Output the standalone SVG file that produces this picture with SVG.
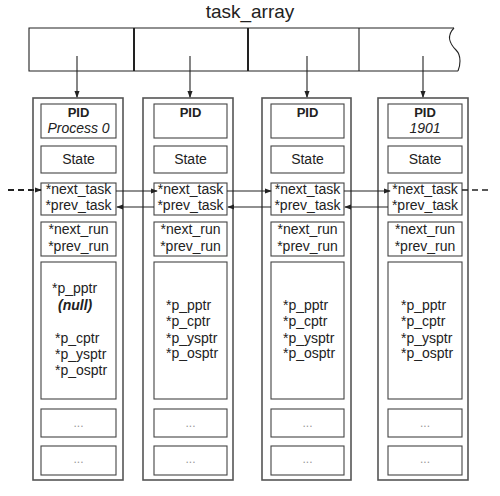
<svg xmlns="http://www.w3.org/2000/svg" width="500" height="496" viewBox="0 0 500 496">
<style>
text{font-family:"Liberation Sans",Arial,sans-serif;fill:#222}
.t{font-size:14px}
.c{text-anchor:middle}
.pid{font-size:13px;font-weight:bold;text-anchor:middle}
.it{font-size:14px;font-style:italic;text-anchor:middle}
.dots{font-size:12px;fill:#999;text-anchor:middle}
.outer{fill:#fff;stroke:#555;stroke-width:1.6}
.box{fill:#fff;stroke:#444;stroke-width:1.1}
.ln{stroke:#222;stroke-width:1.1;fill:none}
</style>
<defs>
<marker id="ah" viewBox="0 0 8 8" refX="7" refY="4" markerWidth="7" markerHeight="7" orient="auto" markerUnits="userSpaceOnUse">
<path d="M0,1 L8,4 L0,7 z" fill="#222"/>
</marker>
</defs>
<rect width="500" height="496" fill="#fff"/>
<g id="task_array">
<text x="250" y="18" font-size="19" text-anchor="middle">task_array</text>
<path d="M454,28 L29,28 L29,71 L458,71" class="ln"/>
<path d="M454,28 C446,36 450,44 456,50 C462,56 460,66 458,71" class="ln"/>
<line x1="134" y1="28" x2="134" y2="71" stroke="#222" stroke-width="2"/>
<line x1="248" y1="28" x2="248" y2="71" stroke="#222" stroke-width="2"/>
<line x1="359" y1="28" x2="359" y2="71" stroke="#222" stroke-width="1.1"/>
</g>
<g id="proc0">
<rect x="33" y="98" width="90" height="382" class="outer"/>
<rect x="41" y="104" width="75" height="34" class="box"/>
<text x="78.5" y="117" class="pid">PID</text>
<text x="78.5" y="133" class="it">Process 0</text>
<rect x="41" y="146" width="75" height="27" class="box"/>
<text x="78.5" y="164" class="t c">State</text>
<rect x="41" y="183" width="75" height="32" class="box"/>
<text x="78.5" y="194" class="t c">*next_task</text>
<text x="78.5" y="210" class="t c">*prev_task</text>
<rect x="41" y="222" width="75" height="34" class="box"/>
<text x="78.5" y="234" class="t c">*next_run</text>
<text x="78.5" y="251" class="t c">*prev_run</text>
<rect x="41" y="262" width="75" height="137" class="box"/>
<text x="52" y="293" class="t">*p_pptr</text>
<text x="58" y="310" class="t" font-weight="bold" font-style="italic">(null)</text>
<text x="55" y="343" class="t">*p_cptr</text>
<text x="55" y="359" class="t">*p_ysptr</text>
<text x="55" y="375" class="t">*p_osptr</text>
<rect x="41" y="409" width="75" height="28" class="box"/>
<text x="78.5" y="427" class="dots">...</text>
<rect x="41" y="446" width="75" height="29" class="box"/>
<text x="78.5" y="463" class="dots">...</text>
</g>
<g id="proc1">
<rect x="143" y="98" width="90" height="382" class="outer"/>
<rect x="154" y="104" width="73" height="34" class="box"/>
<text x="190.5" y="117" class="pid">PID</text>
<rect x="154" y="146" width="73" height="27" class="box"/>
<text x="190.5" y="164" class="t c">State</text>
<rect x="154" y="183" width="73" height="32" class="box"/>
<text x="190.5" y="194" class="t c">*next_task</text>
<text x="190.5" y="210" class="t c">*prev_task</text>
<rect x="154" y="222" width="73" height="34" class="box"/>
<text x="190.5" y="234" class="t c">*next_run</text>
<text x="190.5" y="251" class="t c">*prev_run</text>
<rect x="154" y="262" width="73" height="137" class="box"/>
<text x="166" y="310" class="t">*p_pptr</text>
<text x="166" y="326" class="t">*p_cptr</text>
<text x="166" y="343" class="t">*p_ysptr</text>
<text x="166" y="358" class="t">*p_osptr</text>
<rect x="154" y="409" width="73" height="28" class="box"/>
<text x="190.5" y="427" class="dots">...</text>
<rect x="154" y="446" width="73" height="29" class="box"/>
<text x="190.5" y="463" class="dots">...</text>
</g>
<g id="proc2">
<rect x="262" y="98" width="89" height="382" class="outer"/>
<rect x="271" y="104" width="73" height="34" class="box"/>
<text x="307.5" y="117" class="pid">PID</text>
<rect x="271" y="146" width="73" height="27" class="box"/>
<text x="307.5" y="164" class="t c">State</text>
<rect x="271" y="183" width="73" height="32" class="box"/>
<text x="307.5" y="194" class="t c">*next_task</text>
<text x="307.5" y="210" class="t c">*prev_task</text>
<rect x="271" y="222" width="73" height="34" class="box"/>
<text x="307.5" y="234" class="t c">*next_run</text>
<text x="307.5" y="251" class="t c">*prev_run</text>
<rect x="271" y="262" width="73" height="137" class="box"/>
<text x="283" y="310" class="t">*p_pptr</text>
<text x="283" y="326" class="t">*p_cptr</text>
<text x="283" y="343" class="t">*p_ysptr</text>
<text x="283" y="358" class="t">*p_osptr</text>
<rect x="271" y="409" width="73" height="28" class="box"/>
<text x="307.5" y="427" class="dots">...</text>
<rect x="271" y="446" width="73" height="29" class="box"/>
<text x="307.5" y="463" class="dots">...</text>
</g>
<g id="proc1901">
<rect x="378" y="98" width="90" height="382" class="outer"/>
<rect x="388" y="104" width="74" height="34" class="box"/>
<text x="425" y="117" class="pid">PID</text>
<text x="425" y="133" class="it">1901</text>
<rect x="388" y="146" width="74" height="27" class="box"/>
<text x="425" y="164" class="t c">State</text>
<rect x="388" y="183" width="74" height="32" class="box"/>
<text x="425" y="194" class="t c">*next_task</text>
<text x="425" y="210" class="t c">*prev_task</text>
<rect x="388" y="222" width="74" height="34" class="box"/>
<text x="425" y="234" class="t c">*next_run</text>
<text x="425" y="251" class="t c">*prev_run</text>
<rect x="388" y="262" width="74" height="137" class="box"/>
<text x="401" y="310" class="t">*p_pptr</text>
<text x="401" y="326" class="t">*p_cptr</text>
<text x="401" y="343" class="t">*p_ysptr</text>
<text x="401" y="358" class="t">*p_osptr</text>
<rect x="388" y="409" width="74" height="28" class="box"/>
<text x="425" y="427" class="dots">...</text>
<rect x="388" y="446" width="74" height="29" class="box"/>
<text x="425" y="463" class="dots">...</text>
</g>
<g id="connectors">
<line x1="77" y1="56" x2="77" y2="97" class="ln" stroke-width="0.8" marker-end="url(#ah)"/>
<line x1="190" y1="56" x2="190" y2="97" class="ln" marker-end="url(#ah)"/>
<line x1="307" y1="56" x2="307" y2="97" class="ln" marker-end="url(#ah)"/>
<line x1="423" y1="56" x2="423" y2="97" class="ln" marker-end="url(#ah)"/>
<line x1="8" y1="190" x2="41" y2="190" stroke="#222" stroke-width="2" stroke-dasharray="6,4" marker-end="url(#ah)"/>
<line x1="462" y1="190" x2="488" y2="190" stroke="#222" stroke-width="1.6" stroke-dasharray="6,4"/>
<line x1="116" y1="191" x2="157" y2="191" class="ln" marker-end="url(#ah)"/>
<line x1="154" y1="207" x2="117" y2="207" class="ln" marker-end="url(#ah)"/>
<line x1="227" y1="191" x2="271" y2="191" class="ln" marker-end="url(#ah)"/>
<line x1="271" y1="207" x2="228" y2="207" class="ln" marker-end="url(#ah)"/>
<line x1="344" y1="191" x2="390" y2="191" class="ln" marker-end="url(#ah)"/>
<line x1="388" y1="207" x2="345" y2="207" class="ln" marker-end="url(#ah)"/>
</g>
</svg>
